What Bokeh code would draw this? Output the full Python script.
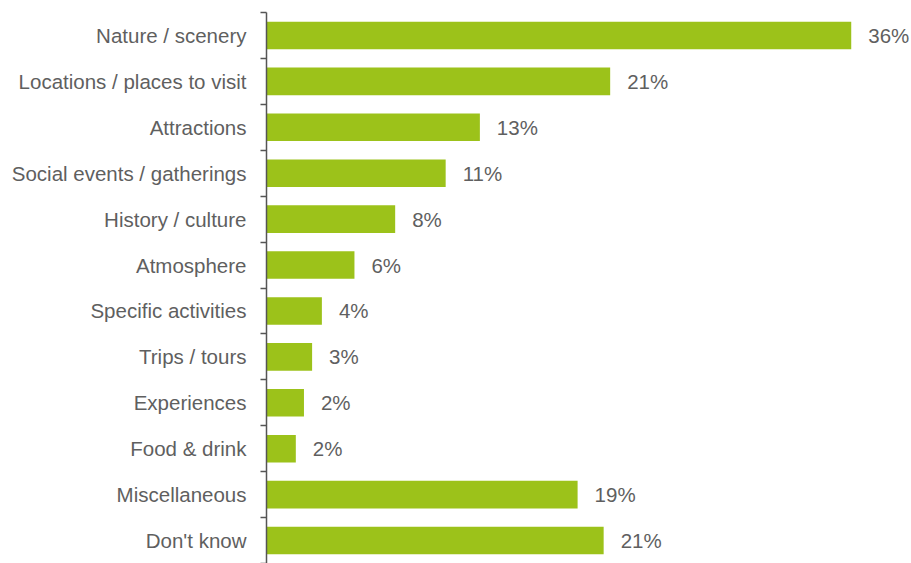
from bokeh.plotting import figure
from bokeh.models import ColumnDataSource, Range1d, FixedTicker
from bokeh.core.properties import value
from bokeh.embed import file_html
from bokeh.resources import INLINE

categories = ["Nature / scenery", "Locations / places to visit", "Attractions",
              "Social events / gatherings", "History / culture", "Atmosphere",
              "Specific activities", "Trips / tours", "Experiences", "Food & drink",
              "Miscellaneous", "Don't know"]
values = [35.9, 21.1, 13.1, 11.0, 7.9, 5.4, 3.4, 2.8, 2.3, 1.8, 19.1, 20.7]
value_labels = ["36%", "21%", "13%", "11%", "8%", "6%", "4%", "3%", "2%", "2%", "19%", "21%"]

n = len(categories)
ypos = [n - 1 - i for i in range(n)]

src = ColumnDataSource(dict(y=ypos, v=values, lab=value_labels, cat=categories))

p = figure(width=911, height=563, output_backend="svg", toolbar_location=None,
           x_range=Range1d(0, 39.6), y_range=Range1d(-0.5, n - 0.5),
           min_border_left=266, min_border_right=0, min_border_top=12, min_border_bottom=0,
           x_axis_location=None)
p.outline_line_color = None
p.xgrid.visible = False
p.ygrid.visible = False
p.background_fill_color = "white"
p.border_fill_color = "white"

p.hbar(y="y", right="v", left=0, height=0.6, source=src, fill_color="#9cc21a", line_color=None)
p.text(x="v", y="y", text="lab", source=src, x_offset=17, text_align="left",
       text_baseline="middle", text_font=value("Liberation Sans"), text_font_size="20.5px",
       text_color="#5f5f5f")

boundaries = [i - 0.5 for i in range(n + 1)]
p.yaxis.ticker = FixedTicker(ticks=ypos, minor_ticks=boundaries)
p.yaxis.major_label_overrides = {y: c for y, c in zip(ypos, categories)}
p.yaxis.major_tick_out = 0
p.yaxis.major_tick_in = 0
p.yaxis.minor_tick_out = 6
p.yaxis.minor_tick_in = 0
p.yaxis.minor_tick_line_color = "#555555"
p.yaxis.minor_tick_line_width = 1.5
p.yaxis.axis_line_color = "#555555"
p.yaxis.axis_line_width = 1.5
p.yaxis.major_label_standoff = 14
p.yaxis.major_label_text_font = "Liberation Sans"
p.yaxis.major_label_text_font_size = "20.5px"
p.yaxis.major_label_text_color = "#5f5f5f"

open("out.html", "w").write(file_html(p, INLINE))
